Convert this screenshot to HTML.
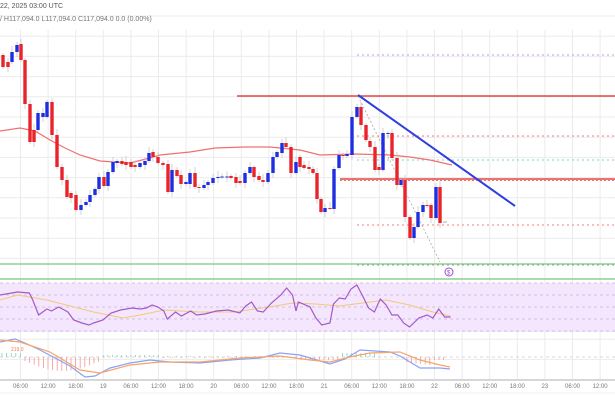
<!DOCTYPE html>
<html><head><meta charset="utf-8"><style>
html,body{margin:0;padding:0;background:#fff;width:615px;height:410px;overflow:hidden}
svg{display:block;font-family:"Liberation Sans",sans-serif}
</style></head><body>
<svg id="s" width="615" height="410" viewBox="0 0 615 410" xmlns="http://www.w3.org/2000/svg">
<rect width="615" height="410" fill="#fff"/>
<g id="grid" stroke="#ebebeb" stroke-width="1"></g>
<rect x="0" y="283" width="615" height="49" fill="#f3e6fd"/>
<g stroke="#c9b3dc" stroke-dasharray="3,3" stroke-width="0.8">
<line x1="0" y1="283" x2="615" y2="283"/><line x1="0" y1="295" x2="615" y2="295"/><line x1="0" y1="307" x2="615" y2="307"/><line x1="0" y1="319" x2="615" y2="319"/><line x1="0" y1="331" x2="615" y2="331"/>
</g>
<line x1="0" y1="357" x2="615" y2="357" stroke="#ccc" stroke-dasharray="3,3" stroke-width="0.8"/>
<line x1="0" y1="264" x2="615" y2="264" stroke="#8fd18f" stroke-width="1.5"/>
<line x1="0" y1="279" x2="615" y2="279" stroke="#8fd18f" stroke-width="1.5"/>
<line x1="0" y1="380" x2="615" y2="380" stroke="#ccc" stroke-width="1.5"/>
<line x1="0" y1="393" x2="615" y2="393" stroke="#f0f0f0" stroke-width="1"/>
<g stroke-dasharray="2,3" stroke-width="1">
<line x1="357" y1="55" x2="615" y2="55" stroke="#c79be0"/>
<line x1="357" y1="136" x2="615" y2="136" stroke="#ef8080"/>
<line x1="357" y1="160" x2="615" y2="160" stroke="#7fd6c4"/>
<line x1="357" y1="225" x2="615" y2="225" stroke="#ef8080"/>
<line x1="357" y1="265" x2="615" y2="265" stroke="#999"/>
</g>
<line x1="237" y1="96" x2="615" y2="96" stroke="#e84545" stroke-width="1.6"/>
<line x1="340" y1="179" x2="615" y2="179" stroke="#e84545" stroke-width="1.6"/>
<line x1="340" y1="180.5" x2="615" y2="180.5" stroke="#e84545" stroke-width="0.8" stroke-dasharray="2,2"/>
<line x1="358" y1="96" x2="440" y2="262" stroke="#aaa" stroke-width="0.8" stroke-dasharray="2,2"/>
<polyline fill="none" stroke="#ef7070" stroke-width="1.2" points="0,131 20,128 35,131 50,140 65,148 80,155 100,161 130,163 150,158 160,155 190,152 215,148 245,147 270,147 300,150 320,155 355,154 390,155 410,157 430,160 452,165"/>
<g id="candles"></g>
<line x1="358" y1="95" x2="515" y2="206" stroke="#2f3fe0" stroke-width="2"/>
<circle cx="449" cy="272" r="4" fill="none" stroke="#9a4fd0" stroke-width="1"/>
<text x="447" y="274.5" font-size="6" fill="#9a4fd0">$</text>
<g transform="scale(1.17,1)">
<polyline fill="none" stroke="#f2c97a" stroke-width="1" vector-effect="non-scaling-stroke" points="0,300 15,295 40,300 60,306 80,312 105,318 120,315 140,310 170,312 200,312 230,307 250,303 270,304 290,306 310,303 330,300 350,305 370,312 385,316"/>
<polyline fill="none" stroke="#a35ac8" stroke-width="1.2" vector-effect="non-scaling-stroke" points="0,295 15,292 25,293 28,300 33,315 40,309 44,311 50,307 55,310 58,312 63,320 70,323 76,325 80,323 88,320 95,313 103,310 113,308 120,309 125,308 130,305 135,307 140,311 143,319 150,312 155,316 163,311 168,315 175,314 185,311 195,310 205,313 210,306 215,302 220,311 225,312 232,303 240,295 245,288 250,295 253,311 255,302 265,307 270,318 275,325 282,323 285,304 290,298 295,299 300,289 305,285 310,296 315,308 320,312 325,299 330,305 335,315 340,315 345,323 350,327 358,318 365,315 370,318 375,309 380,317 385,317"/>
</g>
<g id="hist"></g>
<polyline fill="none" stroke="#8aa2f5" stroke-width="1.2" points="0,342 15,339 25,343 40,350 55,358 70,366 85,377 95,376 110,368 130,363 150,360 170,362 200,363 230,360 260,358 280,353 300,355 320,361 330,364 345,359 360,350 375,351 390,352 400,356 420,368 440,368 450,369"/>
<polyline fill="none" stroke="#f5a46a" stroke-width="1.2" points="0,340 20,342 50,352 80,370 100,373 130,365 160,362 200,362 240,358 280,356 310,360 330,362 350,357 370,353 400,352 420,360 440,365 450,367"/>
<text x="11" y="351" font-size="5" fill="#f08050">219.0</text>
<text x="0" y="8" font-size="7" fill="#555">22, 2025 03:00 UTC</text>
<text x="0" y="21" font-size="7" fill="#777">/ H117,094.0 L117,094.0 C117,094.0 0.0 (0.00%)</text>
<g id="lab" font-size="6" fill="#777" text-anchor="middle"></g>
</svg>
<script>
var NS="http://www.w3.org/2000/svg";
function el(p,t,a){var e=document.createElementNS(NS,t);for(var k in a)e.setAttribute(k,a[k]);p.appendChild(e);return e;}
var g=document.getElementById('grid');
for(var y=16;y<380;y+=20.2)el(g,'line',{x1:0,y1:y.toFixed(1),x2:615,y2:y.toFixed(1)});
var labs=["06:00","12:00","18:00","19","06:00","12:00","18:00","20","06:00","12:00","18:00","21","06:00","12:00","18:00","22","06:00","12:00","18:00","23","06:00","12:00"];
var L=document.getElementById('lab');
for(var i=0;i<22;i++){var x=20.5+i*27.6;el(g,'line',{x1:x,y1:30,x2:x,y2:380});var t=el(L,'text',{x:x,y:388});t.textContent=labs[i];}
var c=[[3,55,67],[8,62,67],[12,62,52],[17,52,45],[21,44,60],[25,60,104],[30,104,142],[34,130,142],[38,130,113],[43,117,113],[47,117,102],[52,102,135],[57,135,167],[62,167,180],[67,180,197],[71,193,198],[76,195,210],[81,210,205],[86,205,202],[90,202,195],[95,195,189],[99,189,177],[104,177,186],[108,186,172],[113,172,162],[117,163,161],[122,161,164],[126,162,165],[131,162,167],[135,165,167],[140,167,163],[145,165,161],[149,161,153],[153,152,157],[158,157,163],[163,163,165],[168,164,192],[172,192,170],[177,170,176],[181,175,184],[186,184,182],[190,184,173],[195,173,187],[199,187,188],[204,188,185],[208,185,182],[213,183,178],[218,178,177],[222,177,176.5],[227,177,176.5],[231,176,178],[236,177,183],[240,181,183],[245,183,173],[250,173,167],[254,167,177],[259,176,180],[263,180,182],[268,182,173],[273,173,157],[277,157,152],[282,153,143],[286,143,147],[291,147,173],[296,173,162],[300,157,167],[304,165,168],[309,167,169],[313,169,173],[317,173,199],[321,199,212],[325,212,208],[330,208,208],[334,209,169],[339,168,155],[343,155,155],[347,156,154],[352,155,117],[357,117,107],[361,107,125],[366,125,140],[370,141,147],[375,147,170],[379,167,170],[383,170,133],[388,134,133],[392,133,158],[397,158,185],[401,185,180],[405,180,217],[410,217,238],[414,238,227],[418,227,212],[423,212,205],[427,205,206],[431,205,218],[436,218,187],[440,187,223]];
var C=document.getElementById('candles');
c.forEach(function(d,i){var up=d[2]<d[1];var col=up?'#1f2ee0':'#e8232a';var top=Math.min(d[1],d[2]),bot=Math.max(d[1],d[2]);var w=((i*7)%5)+2;
el(C,'line',{x1:d[0],y1:top-w,x2:d[0],y2:bot+((i*3)%6)+2,stroke:'#c8c8c8','stroke-width':0.8});
el(C,'rect',{x:d[0]-1.7,y:top,width:3.4,height:Math.max(1,bot-top),fill:col});});
el(C,'line',{x1:443,y1:222,x2:447,y2:222,stroke:'#999','stroke-width':0.8});
var H=document.getElementById('hist');
for(var x=2;x<445;x+=4.6){var v=0;
if(x<25)v=-4;else if(x<100)v=4+Math.sin((x-25)/75*Math.PI)*10;else if(x<160)v=-2;else if(x<300)v=(x%3<1.5?1:-1);else if(x<340)v=3;else if(x<375)v=-4;else if(x<405)v=0;else v=5+(x-405)*0.12;
if(x>430)v=3;
el(H,'line',{x1:x,y1:357,x2:x,y2:357+v,stroke:v>0?'#f29a9a':'#7fcfbf','stroke-width':0.8});}
</script>
</body></html>
